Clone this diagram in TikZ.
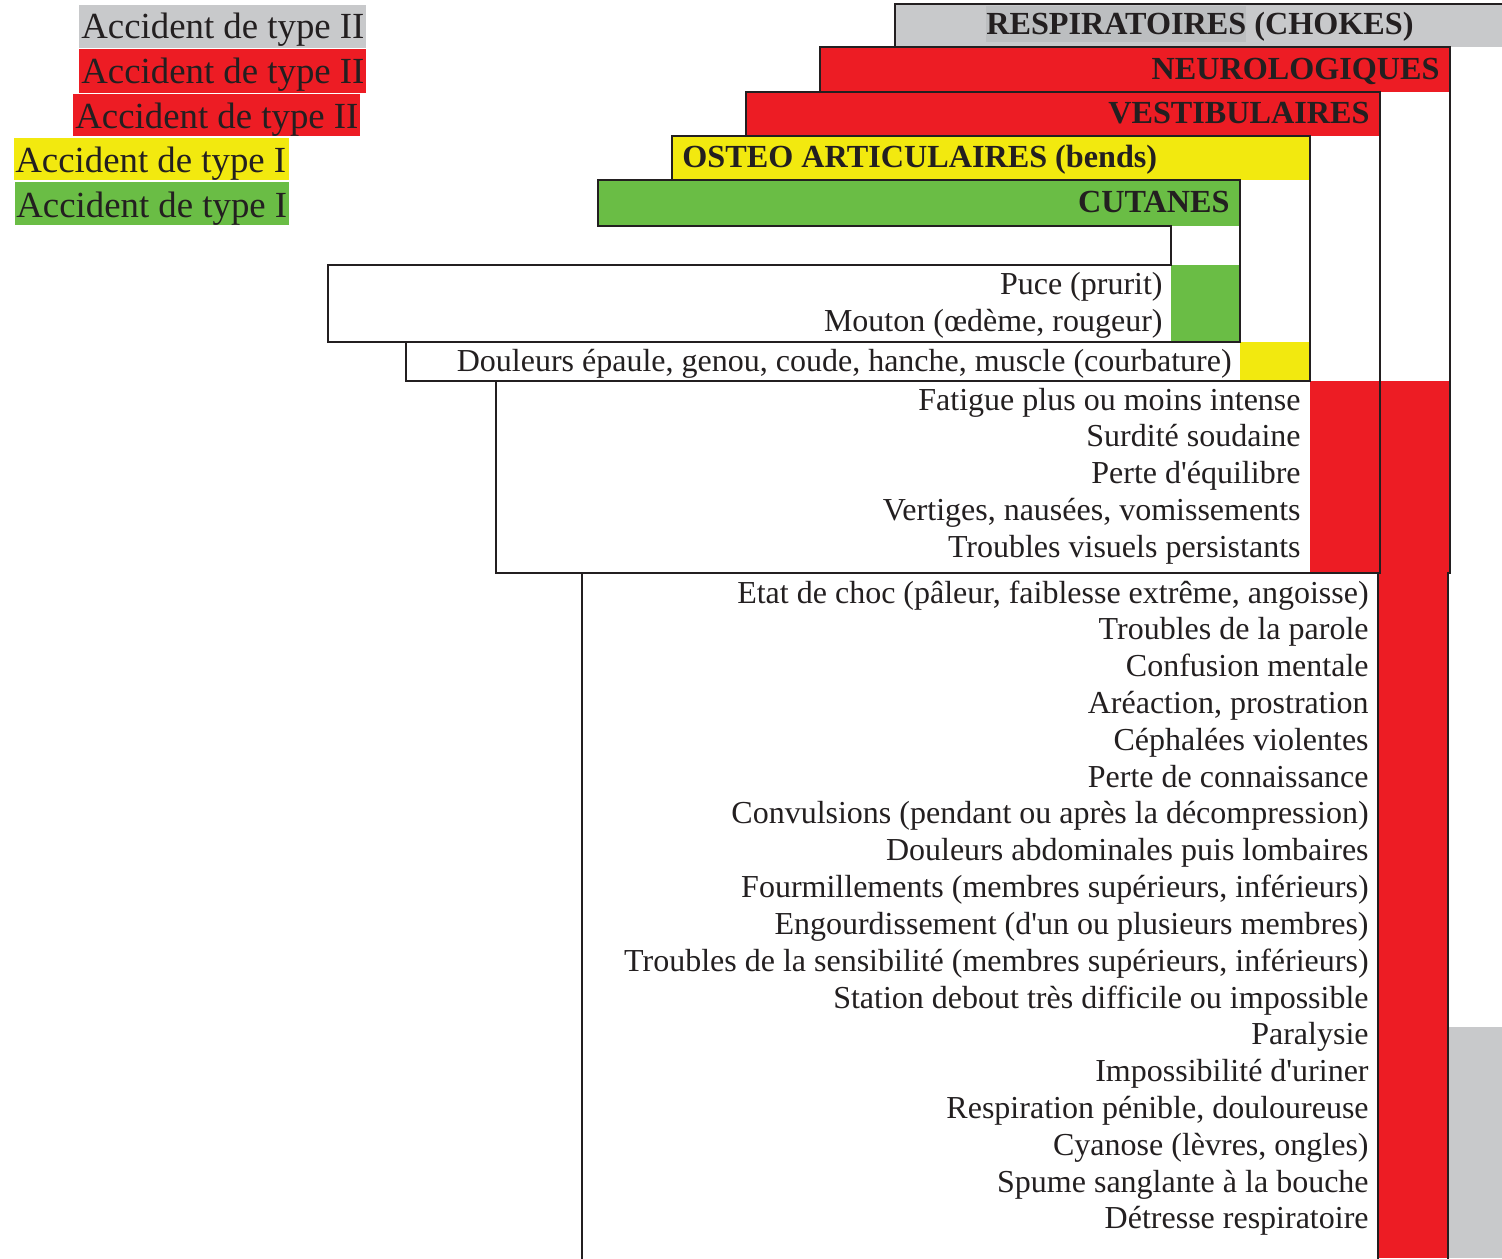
\documentclass[tikz,border=0pt]{standalone}
\usepackage{fontspec}
\setmainfont{Liberation Serif}
\definecolor{ink}{HTML}{231F20}
\definecolor{cred}{HTML}{ED1C24}
\definecolor{cgreen}{HTML}{6ABD45}
\definecolor{cyellow}{HTML}{F2E90F}
\definecolor{cgray}{HTML}{C8C9CB}
\definecolor{cgrayd}{HTML}{BCBEC0}
\newcommand\apos{\textquotesingle}
\tikzset{
  rule/.style={draw=ink, line width=1pt, line cap=rect},
  legtxt/.style={inner sep=0pt, anchor=base west, text=ink, font=\fontsize{18.4pt}{20pt}\selectfont},
  headtxt/.style={inner sep=0pt, anchor=base east, text=ink, font=\fontsize{16.1pt}{17pt}\selectfont\bfseries},
  symtxt/.style={inner sep=0pt, anchor=base east, text=ink, font=\fontsize{16pt}{17pt}\selectfont},
}
\begin{document}
\begin{tikzpicture}[x=0.5pt, y=-0.5pt]
\useasboundingbox (0,0) rectangle (1502,1258);
% legend fills
\fill[cgray]   (79,5)   rectangle (366,48);
\fill[cred]    (79,49)  rectangle (366,93);
\fill[cred]    (73,94)  rectangle (360,136);
\fill[cyellow] (14,138) rectangle (289,180);
\fill[cgreen]  (15,182) rectangle (289,225);
\node[legtxt] (l1) at (81,38)  {Accident de type II};
\node[legtxt] (l2) at (81,83)  {Accident de type II};
\node[legtxt] (l3) at (75,128) {Accident de type II};
\node[legtxt] (l4) at (15,172) {Accident de type I};
\node[legtxt] (l5) at (16,217) {Accident de type I};
% header fills
\fill[cgray]   (895,4)   rectangle (1502,47);
\fill[cgrayd]  (986,6)   rectangle (1246,42);
\fill[cred]    (820,47)  rectangle (1450,92);
\fill[cred]    (746,92)  rectangle (1380,136);
\fill[cyellow] (672,136) rectangle (1310,180);
\fill[cgreen]  (598,180) rectangle (1240,226);
% column cells
\fill[cgreen]  (1171,265) rectangle (1240,342);
\fill[cyellow] (1240,342) rectangle (1310,381);
\fill[cred]    (1310,381) rectangle (1380,573);
\fill[cred]    (1380,381) rectangle (1450,573);
\fill[cred]    (1378,573) rectangle (1448,1258);
\fill[cgray]   (1448,1027) rectangle (1502,1258);
% rules
\draw[rule] (895,47) -- (895,4) -- (1502,4);
\draw[rule] (820,92) -- (820,47) -- (1450,47) -- (1450,573);
\draw[rule] (746,136) -- (746,92) -- (1380,92) -- (1380,573);
\draw[rule] (672,180) -- (672,136) -- (1310,136) -- (1310,381);
\draw[rule] (598,226) -- (598,180) -- (1240,180) -- (1240,342);
\draw[rule] (598,226) -- (1171,226) -- (1171,265);
\draw[rule] (1171,265) -- (328,265) -- (328,342) -- (1240,342);
\draw[rule] (406,342) -- (406,381) -- (1310,381);
\draw[rule] (496,381) -- (496,573) -- (1380,573);
\draw[rule] (582,573) -- (582,1258);
\draw[rule] (1378,573) -- (1378,1258);
\draw[rule] (1448,573) -- (1448,1258);
% header texts
\node[headtxt] (h1) at (1414,34) {RESPIRATOIRES (CHOKES)};
\node[headtxt] (h2) at (1440,79) {NEUROLOGIQUES};
\node[headtxt] (h3) at (1370,123) {VESTIBULAIRES};
\node[headtxt, anchor=base west] (h4) at (682,167) {OSTEO ARTICULAIRES (bends)};
\node[headtxt] (h5) at (1230,212) {CUTANES};
% cutanes
\node[symtxt] (c1) at (1163,294) {Puce (prurit)};
\node[symtxt] (c2) at (1163,331) {Mouton (œdème, rougeur)};
% osteo
\node[symtxt] (o1) at (1232,371) {Douleurs épaule, genou, coude, hanche, muscle (courbature)};
% vestibulaires
\node[symtxt] (v1) at (1301,410) {Fatigue plus ou moins intense};
\node[symtxt] (v2) at (1301,446.75) {Surdité soudaine};
\node[symtxt] (v3) at (1301,483.5) {Perte d\apos équilibre};
\node[symtxt] (v4) at (1301,520.25) {Vertiges, nausées, vomissements};
\node[symtxt] (v5) at (1301,557) {Troubles visuels persistants};
% neurologiques / respiratoires
\foreach \t [count=\i from 0] in {
  {Etat de choc (pâleur, faiblesse extrême, angoisse)},
  {Troubles de la parole},
  {Confusion mentale},
  {Aréaction, prostration},
  {Céphalées violentes},
  {Perte de connaissance},
  {Convulsions (pendant ou après la décompression)},
  {Douleurs abdominales puis lombaires},
  {Fourmillements (membres supérieurs, inférieurs)},
  {Engourdissement (d\apos un ou plusieurs membres)},
  {Troubles de la sensibilité (membres supérieurs, inférieurs)},
  {Station debout très difficile ou impossible},
  {Paralysie},
  {Impossibilité d\apos uriner},
  {Respiration pénible, douloureuse},
  {Cyanose (lèvres, ongles)},
  {Spume sanglante à la bouche},
  {Détresse respiratoire}} {
  \node[symtxt] (n\i) at (1369,{603+36.82*\i}) {\t};
}
\end{tikzpicture}
\end{document}
